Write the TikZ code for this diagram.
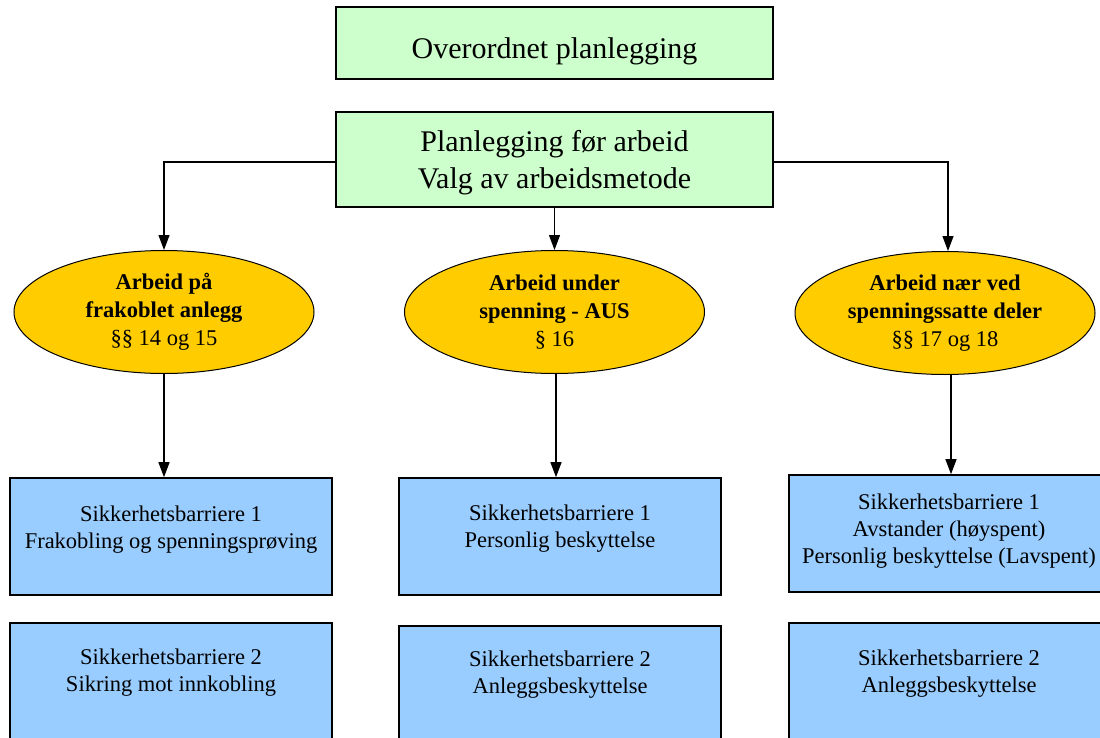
\documentclass[tikz,border=0pt]{standalone}
\usepackage{fontspec}
\setmainfont{Liberation Serif}
\usetikzlibrary{arrows.meta,shapes.geometric}
\definecolor{boxgreen}{HTML}{CCFFCC}
\definecolor{ellyellow}{HTML}{FFCC00}
\definecolor{boxblue}{HTML}{99CCFF}
\tikzset{
  x=1pt,y=-1pt,
  greenbox/.style={draw=black,line width=1.6pt,fill=boxgreen,inner sep=0pt},
  bluebox/.style={draw=black,line width=1.6pt,fill=boxblue,inner sep=0pt},
  ellnode/.style={ellipse,draw=black,line width=1pt,fill=ellyellow,minimum width=300pt,minimum height=123pt,inner sep=0pt,align=center,font=\fontsize{22.5}{28}\selectfont},
  bigtext/.style={anchor=base,align=center,inner sep=0pt,font=\fontsize{30}{37}\selectfont},
  smalltext/.style={anchor=base,align=center,inner sep=0pt,font=\fontsize{22.5}{27}\selectfont},
  arr/.style={draw=black,line width=1.2pt,-{Triangle[width=11pt,length=15pt]}}
}
\begin{document}
\begin{tikzpicture}
\useasboundingbox (0,0) rectangle (1100,738);
\clip (0,0) rectangle (1100,738);
% top boxes
\node[greenbox,minimum width=437pt,minimum height=72pt] (top1) at (554.5,43) {};
\node[bigtext] (top1t) at (554.5,59) {Overordnet planlegging};
\node[greenbox,minimum width=437pt,minimum height=95pt] (top2) at (554.5,159.5) {};
\node[bigtext] (top2t) at (554.5,189) {Planlegging før arbeid\\Valg av arbeidsmetode};
% ellipses
\node[ellnode] (e1) at (164,312) {\textbf{Arbeid på}\\\textbf{frakoblet anlegg}\\§§ 14 og 15};
\node[ellnode] (e2) at (554.5,312) {\textbf{Arbeid under}\\\textbf{spenning - AUS}\\§ 16};
\node[ellnode] (e3) at (945,313) {\textbf{Arbeid nær ved}\\\textbf{spenningssatte deler}\\§§ 17 og 18};
% connectors from planning box
\draw[arr] ([yshift=-2.5pt]top2.west) -| (e1.north);
\draw[arr] ([yshift=-2.5pt]top2.east) -| ([xshift=3pt]e3.north);
\draw[arr] (top2.south) -- (top2.south |- e2.north);
% barrier boxes row 1
\node[bluebox,minimum width=322pt,minimum height=117pt] (b1) at (171,536.5) {};
\node[bluebox,minimum width=322pt,minimum height=117pt] (b2) at (560,536.5) {};
\node[bluebox,minimum width=321pt,minimum height=117pt] (b3) at (949.5,533.5) {};
\node[smalltext] (b1t) at (171,548) {Sikkerhetsbarriere 1\\Frakobling og spenningsprøving};
\node[smalltext] (b2t) at (560,547) {Sikkerhetsbarriere 1\\Personlig beskyttelse};
\node[smalltext] (b3t) at (949,563) {Sikkerhetsbarriere 1\\Avstander (høyspent)\\Personlig beskyttelse (Lavspent)};
% barrier boxes row 2
\node[bluebox,minimum width=322pt,minimum height=137pt] (c1) at (171,691.5) {};
\node[bluebox,minimum width=322pt,minimum height=134pt] (c2) at (560,693) {};
\node[bluebox,minimum width=321pt,minimum height=137pt] (c3) at (949.5,691.5) {};
\node[smalltext] (c1t) at (171,691) {Sikkerhetsbarriere 2\\Sikring mot innkobling};
\node[smalltext] (c2t) at (560,693) {Sikkerhetsbarriere 2\\Anleggsbeskyttelse};
\node[smalltext] (c3t) at (949,692) {Sikkerhetsbarriere 2\\Anleggsbeskyttelse};
% arrows from ellipses
\draw[arr] (e1.south) -- (e1.south |- b1.north);
\draw[arr] ([xshift=1.5pt]e2.south) -- ([xshift=1.5pt]e2.south |- b2.north);
\draw[arr] ([xshift=6pt]e3.south) -- ([xshift=6pt]e3.south |- b3.north);
\end{tikzpicture}
\end{document}
